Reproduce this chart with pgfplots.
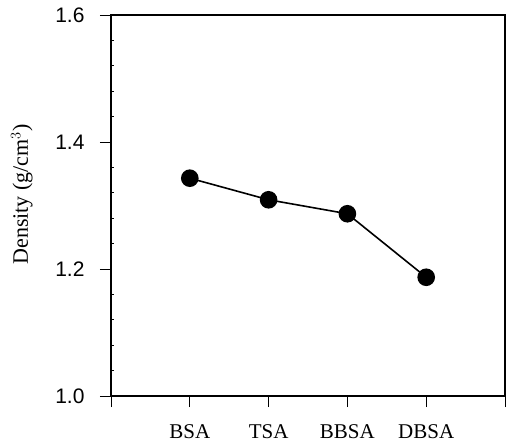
\documentclass[border=0pt]{standalone}
\usepackage{fontspec}
\setmainfont{Liberation Serif}
\newfontfamily\arial{Liberation Sans}
\usepackage{pgfplots}
\pgfplotsset{compat=1.18}
\begin{document}
\begin{tikzpicture}[x=1pt,y=1pt]
\path[use as bounding box] (-111,-51) rectangle (400,396);
\begin{axis}[
  at={(0,0)}, anchor=south west,
  scale only axis, width=394pt, height=381pt,
  xmin=0, xmax=5, ymin=1.0, ymax=1.6,
  axis line style={line width=2pt},
  xtick={0,1,2,3,4,5},
  xticklabels={,BSA,TSA,BBSA,DBSA,},
  ytick={1.0,1.2,1.4,1.6},
  minor y tick num=4,
  xtick pos=bottom, ytick pos=left,
  tick align=outside,
  major tick length=11pt,
  minor tick length=-3pt,
  tick style={black, line width=0.8pt},
  /pgf/number format/assume math mode=true,
  yticklabel style={font=\arial\fontsize{21}{21}\selectfont, xshift=-12pt, /pgf/number format/.cd, fixed, fixed zerofill, precision=1},
  xticklabel style={font=\fontsize{21}{21}\selectfont, yshift=-14pt},
  ylabel={Density (g/cm$^3$)},
  ylabel style={font=\fontsize{22}{22}\selectfont, at={(axis description cs:-0.226,0.529)}, anchor=center},
]
\addplot[black, line width=1.6pt, mark=*, mark size=8pt] coordinates {
  (1,1.343) (2,1.309) (3,1.287) (4,1.187)
};
\end{axis}
\end{tikzpicture}
\end{document}
